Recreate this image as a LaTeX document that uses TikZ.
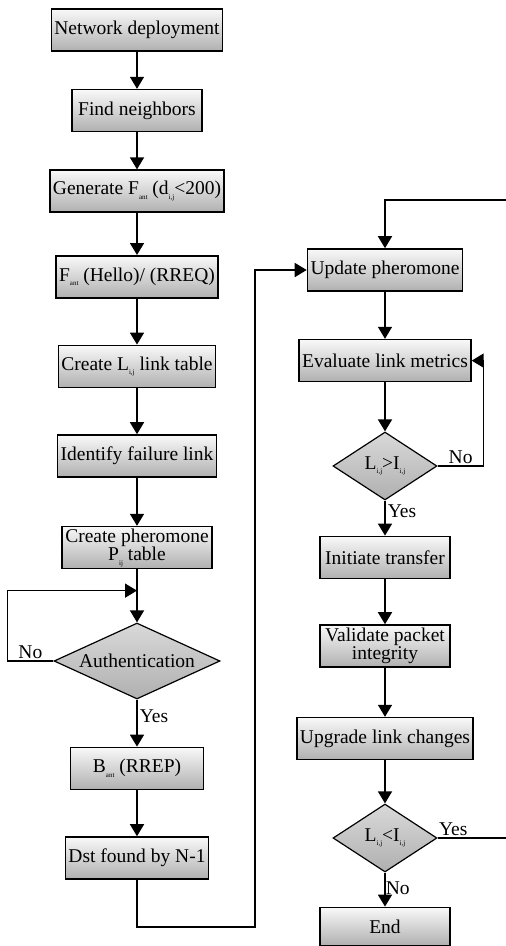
\documentclass[tikz,border=0pt]{standalone}
\usepackage{fontspec}
\setmainfont{Liberation Serif}
\usetikzlibrary{shapes.geometric, arrows.meta, positioning, calc}
\newcommand{\subt}[1]{\raisebox{-0.5ex}{\fontsize{7}{7}\selectfont #1}}
\tikzset{
  block/.style={rectangle, draw=black, line width=1.6pt,
                top color=gray!5, bottom color=gray!62,
                minimum height=42pt, minimum width=130pt,
                inner xsep=3pt, inner ysep=2pt, align=center,
                font=\fontsize{19.5}{18.5}\selectfont},
  decision/.style={diamond, draw=black, line width=1.2pt,
                   top color=gray!30, bottom color=gray!62,
                   inner sep=0pt, minimum width=104pt, minimum height=68pt,
                   aspect=1.5, font=\fontsize{19.5}{20}\selectfont},
  arrow/.style={-{Triangle[length=12pt,width=14pt]}, line width=1.6pt},
  lbl/.style={font=\fontsize{19.5}{20}\selectfont, inner sep=2pt},
}
\begin{document}
\begin{tikzpicture}[x=1pt, y=1pt, node distance=46pt]
  \useasboundingbox (0,0) rectangle (506,-946);

  % --- Left column ---
  \node[block] (net) at (137,-30) {Network deployment};
  \node[block, below=37pt of net] (find) {Find neighbors};
  \node[block, below=37pt of find] (gen) {Generate F\subt{ant} (d\subt{i,j}<200)};
  \node[block, below=42pt of gen] (fant) {F\subt{ant} (Hello)/ (RREQ)};
  \node[block, below=of fant] (lnk) {Create L\subt{i,j} link table};
  \node[block, below=of lnk] (fail) {Identify failure link};
  \node[block, below=48pt of fail, minimum width=145pt] (pher) {Create pheromone\\P\subt{ij} table};
  \node[decision, below=53pt of pher, minimum width=166pt, minimum height=76pt,
        aspect=2.2] (auth) {Authentication};
  \node[block, below=47pt of auth, minimum width=133pt] (bant) {B\subt{ant} (RREP)};
  \node[block, below=of bant] (dst) {Dst found by N-1};

  % --- Right column ---
  \node[block] (upd) at (385,-270) {Update pheromone};
  \node[block, below=47pt of upd] (eval) {Evaluate link metrics};
  \node[decision, below=49pt of eval] (cmp1) {L\subt{i,j}>I\subt{i,j}};
  \node[block, below=35pt of cmp1] (init) {Initiate transfer};
  \node[block, below=45pt of init] (valid) {Validate packet\\integrity};
  \node[block, below=49pt of valid] (upg) {Upgrade link changes};
  \node[decision, below=43pt of upg] (cmp2) {L\subt{i,j}<I\subt{i,j}};
  \node[block, below=34pt of cmp2, minimum height=38pt] (stop) {End};

  % --- Helper points ---
  \coordinate (authin) at ($(pher.south)!0.4!(auth.north)$);
  \coordinate (updin) at ($(upd.north)+(0,48)$);

  % --- Edges ---
  \draw[arrow] (net) -- (find);
  \draw[arrow] (find) -- (gen);
  \draw[arrow] (gen) -- (fant);
  \draw[arrow] (fant) -- (lnk);
  \draw[arrow] (lnk) -- (fail);
  \draw[arrow] (fail) -- (pher);
  \draw[arrow] (pher) -- (auth);
  \draw[arrow] (auth.west) -- node[lbl, above]{No} ++(-46,0) |- (authin);
  \draw[arrow] (auth) -- node[lbl, right, pos=0.35]{Yes} (bant);
  \draw[arrow] (bant) -- (dst);
  \draw[arrow] (dst.south) -- ++(0,-47) -| ($(upd.west)+(-52,0)$) -- (upd.west);

  \draw[arrow] (upd) -- (eval);
  \draw[arrow] (eval) -- (cmp1);
  \draw[arrow] (cmp1.east) -- node[lbl, above]{No} ++(46,0) |- (eval.east);
  \draw[arrow] (cmp1) -- node[lbl, right, pos=0.3]{Yes} (init);
  \draw[arrow] (init) -- (valid);
  \draw[arrow] (valid) -- (upg);
  \draw[arrow] (upg) -- (cmp2);
  \draw[arrow] (cmp2) -- node[lbl, right, pos=0.45, inner sep=0pt]{No} (stop);
  \draw[arrow] (cmp2.east) -- node[lbl, above, pos=0.2]{Yes} ++(78,0) |- (updin) -- (upd.north);

\end{tikzpicture}
\end{document}
